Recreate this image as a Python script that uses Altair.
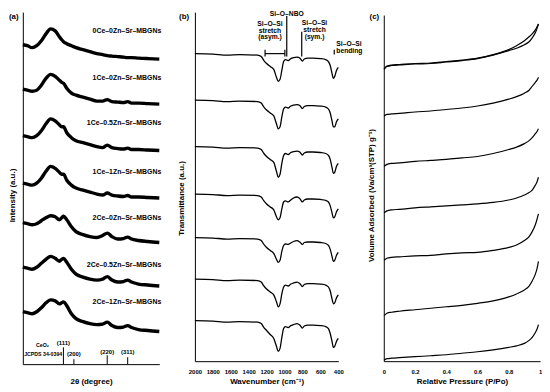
import altair as alt
import pandas as pd

FONT = "Liberation Sans"

# ---------------- (a) XRD patterns ----------------
xrd_angle = [11, 13, 15, 17, 19, 21, 23, 25, 26.8, 27.8, 28.6, 30, 32, 34, 37, 40, 43,
             45.5, 47.5, 49.5, 52, 54.5, 56.3, 58, 61, 65, 70]
xrd_samples = ["0Ce–0Zn–Sr–MBGNs", "1Ce–0Zn–Sr–MBGNs", "1Ce–0.5Zn–Sr–MBGNs", "1Ce–1Zn–Sr–MBGNs",
               "2Ce–0Zn–Sr–MBGNs", "2Ce–0.5Zn–Sr–MBGNs", "2Ce–1Zn–Sr–MBGNs"]
xrd_0ce_0zn = [323, 322, 320, 322, 327, 334, 339, 337, 331, 328, 326, 324, 322, 320, 318, 316, 314,
               313, 312, 311.5, 311, 310.5, 310, 310, 309.5, 309, 308.5]
xrd_1ce_0zn = [278, 277, 276, 277, 282, 289, 293, 291, 287, 285, 284, 279, 274, 272, 270, 268, 266,
               266, 267.5, 265.5, 265, 264.5, 265.5, 264, 264, 263.5, 263]
xrd_1ce_05zn = [231, 230, 229, 231, 236, 243, 248, 246, 242, 240, 240, 234, 229, 226, 224, 222, 220,
                219, 221.5, 219, 218, 217.5, 218.5, 217, 217, 216.5, 216]
xrd_1ce_1zn = [183, 182, 181, 183, 188, 195, 200, 198, 194, 192, 192, 186, 181, 178, 176, 174, 172,
               171, 173, 171, 170, 169.5, 170.5, 169, 169, 168.5, 168]
xrd_2ce_0zn = [143, 142, 141, 142, 145, 148, 150, 149, 146, 148, 149.5, 146, 139, 134, 131, 129, 128,
               130, 132.5, 129, 126.5, 127, 128.5, 126.5, 125, 124, 123]
xrd_2ce_05zn = [98, 97, 96, 98, 102, 106, 109, 107, 104, 106, 107, 103, 96, 91, 88, 86, 85,
                86, 88.5, 85, 83, 83.5, 85, 83, 81, 80, 79]
xrd_2ce_1zn = [53, 52, 51, 53, 57, 62, 65, 64, 61, 62, 63, 59, 51, 46, 43, 41, 40,
               40.5, 42.5, 39, 37, 37.5, 39, 37, 35, 34, 33]
xrd_values = [xrd_0ce_0zn, xrd_1ce_0zn, xrd_1ce_05zn, xrd_1ce_1zn, xrd_2ce_0zn, xrd_2ce_05zn, xrd_2ce_1zn]
xrd_label_y = [337, 289, 244, 194, 148, 100, 63]

ceo2_angle = [28.55, 33.08, 47.48, 56.33]
ceo2_height = [17, 5, 9, 7]
ceo2_hkl = ["(111)", "(200)", "(220)", "(311)"]
ceo2_label_y = [21, 10, 12, 12]

# ---------------- (b) FTIR spectra ----------------
ftir_wn = [2000, 1800, 1640, 1500, 1300, 1260, 1230, 1200, 1160, 1120, 1090, 1070, 1050, 1030,
           1010, 990, 960, 930, 900, 860, 830, 800, 780, 740, 680, 600, 540, 510, 490, 470,
           455, 440, 420, 400]
ftir_1 = [311, 310.5, 309.5, 310, 309.5, 308, 304, 301, 298, 295, 287, 283, 285, 294, 303, 305, 304,
          306, 307, 307.5, 306.5, 303.5, 305.5, 306.5, 306.5, 306, 305, 303, 299, 291, 286, 288, 294, 297]
ftir_2 = [264, 263.5, 262.5, 263, 262.5, 261, 257, 254, 251, 248, 240, 235, 237, 247, 255, 257, 256,
          258, 259, 259.5, 258.5, 255.5, 257.5, 258.5, 258.5, 258, 257, 255, 251, 243, 237, 237, 242, 245]
ftir_3 = [217, 216.5, 215.5, 216, 215.5, 214, 210, 207, 204, 201, 192, 186, 189, 200, 208, 210, 209,
          211, 212, 212.5, 211.5, 208.5, 210.5, 211.5, 211.5, 211, 210, 208, 204, 196, 190, 191, 197, 200]
ftir_4 = [169, 168.5, 167.5, 168, 167.5, 166, 162, 159, 156, 153, 146, 143, 145, 154, 161, 162, 161,
          163, 165, 166, 164.5, 161, 163, 164, 164, 163.5, 162.5, 161, 157, 150, 145, 146, 151, 154]
ftir_5 = [125, 124.5, 123.5, 124, 123.5, 122, 118, 115, 112, 109, 103, 100, 102, 111, 117, 118.5, 118,
          119.5, 121, 122, 120.5, 118, 120, 120.5, 120.5, 120, 119, 117, 113, 106, 101, 102, 107, 110]
ftir_6 = [83, 82.5, 81.5, 82, 81.5, 80, 76, 73, 70, 67, 60, 55, 58, 68, 75, 77, 76,
          78, 79, 80, 78.5, 75.5, 77.5, 78.5, 78.5, 78, 77, 75, 71, 63, 58, 59, 64, 67]
ftir_7 = [41, 40.5, 39.5, 40, 39.5, 38, 34, 31, 27, 23, 15, 10, 13, 24, 33, 35, 34,
          36, 37, 38, 36.5, 33.5, 35.5, 36.5, 36.5, 36, 35, 33, 28, 20, 14, 15, 20, 23]
ftir_values = [ftir_1, ftir_2, ftir_3, ftir_4, ftir_5, ftir_6, ftir_7]

# annotation segments (x, x2, y, y2) and texts
ann_x = [975, 808, 445, 1217, 1217, 996]
ann_x2 = [975, 808, 445, 996, 1217, 996]
ann_y = [308, 308, 310, 311, 308, 308]
ann_y2 = [349, 333, 315, 311, 315, 315]
ann_text_c = ["Si–O–NBO", "Si–O–Si", "stretch", "(asym.)", "Si–O–Si", "stretch", "(sym.)"]
ann_text_c_x = [975, 1162, 1162, 1162, 665, 665, 665]
ann_text_c_y = [351, 341, 334, 328, 342, 335, 328]
ann_text_l = ["Si–O–Si", "bending"]
ann_text_l_x = [422, 422]
ann_text_l_y = [321, 314]

# ---------------- (c) N2 isotherms ----------------
iso_p = [0.002, 0.02, 0.05, 0.1, 0.2, 0.3, 0.4, 0.5, 0.6, 0.7, 0.8, 0.85, 0.9, 0.93, 0.95, 0.97, 0.98, 0.99]
iso_1 = [295, 298, 299, 299.5, 300.5, 301, 302.5, 304, 306, 309.5, 314, 316.5, 320, 323, 327, 332, 336, 341]
iso_1_des = [295.5, 298.5, 299.5, 300, 301, 301.5, 303, 304.5, 306.5, 310, 315, 319, 324, 328, 331, 335, 338, 341]
iso_2 = [248, 249.5, 250, 250.5, 252, 253, 254.5, 256, 258, 261, 265, 267.5, 271, 274, 278, 282, 284, 287]
iso_3 = [197, 199, 200, 200.5, 202, 203, 204, 205.5, 207, 210, 214, 216.5, 220, 223, 226, 230, 232, 235]
iso_4 = [150, 152, 153, 153.5, 155, 156, 157, 158, 159, 160.5, 163, 165, 168, 170.5, 173, 178, 181, 186]
iso_5 = [102, 104, 105, 105.5, 106.5, 107, 108.5, 109.5, 110, 112, 115, 117.5, 122, 126, 131, 138, 143, 149]
iso_6 = [46, 48.5, 49.5, 50.5, 52, 53.5, 55, 56.5, 58.5, 61, 65, 68, 72, 76, 81, 88, 93, 101]
iso_7 = [1, 2.5, 3, 3.5, 4.5, 5.5, 6.5, 8, 9.5, 11.5, 14, 15.5, 18, 21, 24, 29, 32, 37]
iso_values = [iso_1, iso_1_des, iso_2, iso_3, iso_4, iso_5, iso_6, iso_7]
iso_names = ["s1 ads", "s1 des", "s2", "s3", "s4", "s5", "s6", "s7"]

# ---------------- tables ----------------
df_a = pd.DataFrame([{"angle": a, "intensity": v, "sample": n}
                     for n, vals in zip(xrd_samples, xrd_values) for a, v in zip(xrd_angle, vals)])
df_a_lab = pd.DataFrame({"angle": [70] * 7, "intensity": xrd_label_y, "text": xrd_samples})
df_ce = pd.DataFrame({"angle": ceo2_angle, "intensity": [0] * 4, "top": ceo2_height})
df_ce_lab = pd.DataFrame({"angle": ceo2_angle, "intensity": ceo2_label_y, "text": ceo2_hkl})
df_a_ref = pd.DataFrame({"angle": [19.5, 19.8], "intensity": [19, 10],
                         "text": ["CeO₂", "JCPDS 34-0394"]})
df_a_tag = pd.DataFrame({"angle": [5.0], "intensity": [351], "text": ["(a)"]})

df_b = pd.DataFrame([{"wn": w, "t": v, "sample": n}
                     for n, vals in zip(xrd_samples, ftir_values) for w, v in zip(ftir_wn, vals)])
df_b_seg = pd.DataFrame({"wn": ann_x, "wn2": ann_x2, "t": ann_y, "t2": ann_y2})
df_b_tc = pd.DataFrame({"wn": ann_text_c_x, "t": ann_text_c_y, "text": ann_text_c})
df_b_tl = pd.DataFrame({"wn": ann_text_l_x, "t": ann_text_l_y, "text": ann_text_l})
df_b_p = pd.DataFrame({"wn": [2121], "t": [348], "text": ["(b)"]})

df_c = pd.DataFrame([{"p": p, "v": v, "sample": n}
                     for n, vals in zip(iso_names, iso_values) for p, v in zip(iso_p, vals)])
df_c_p = pd.DataFrame({"p": [-0.06], "v": [348], "text": ["(c)"]})

# ---------------- panel (a) ----------------
ax_a = alt.X("angle:Q", scale=alt.Scale(domain=[11, 70], range=[0, 138], nice=False, zero=False),
             axis=alt.Axis(title="2θ (degree)", labels=False, titlePadding=14))
ay_a = alt.Y("intensity:Q", scale=alt.Scale(domain=[0, 356], nice=False, zero=False),
             axis=alt.Axis(title="Intensity (a.u.)", labels=False, titlePadding=6, titleY=185))

a_lines = alt.Chart(df_a).mark_line(color="black", strokeWidth=3.4, interpolate="monotone").encode(
    x=ax_a, y=ay_a, detail="sample:N")
a_labels = alt.Chart(df_a_lab).mark_text(align="right", baseline="middle", fontSize=7, dx=2).encode(
    x=ax_a, y=ay_a, text="text:N")
a_sticks = alt.Chart(df_ce).mark_rule(color="black", strokeWidth=1).encode(
    x=ax_a, y=ay_a, y2="top:Q")
a_hkl = alt.Chart(df_ce_lab).mark_text(baseline="middle", fontSize=6).encode(
    x=ax_a, y=ay_a, text="text:N")
a_ref = alt.Chart(df_a_ref).mark_text(baseline="middle", fontSize=5.3).encode(
    x=ax_a, y=ay_a, text="text:N")
a_tag = alt.Chart(df_a_tag).mark_text(align="left", baseline="middle", fontSize=8).encode(
    x=ax_a, y=ay_a, text="text:N")
panel_a = alt.layer(a_lines, a_labels, a_sticks, a_hkl, a_ref, a_tag).properties(width=154, height=356)

# ---------------- panel (b) ----------------
ax_b = alt.X("wn:Q", scale=alt.Scale(domain=[2000, 400], range=[0, 145], nice=False, zero=False),
             axis=alt.Axis(title="Wavenumber (cm⁻¹)", values=[2000, 1800, 1600, 1400, 1200, 1000, 800, 600, 400],
                           format="d", labelPadding=7, titlePadding=4, labelFlush=False, labelOverlap=False))
ay_b = alt.Y("t:Q", scale=alt.Scale(domain=[0, 353], nice=False, zero=False),
             axis=alt.Axis(title="Transmittance (a.u.)", labels=False, titlePadding=10, titleY=188))

b_lines = alt.Chart(df_b).mark_line(color="black", strokeWidth=1.3, interpolate="monotone").encode(
    x=ax_b, y=ay_b, detail="sample:N")
b_seg = alt.Chart(df_b_seg).mark_rule(color="black", strokeWidth=1.2).encode(
    x=ax_b, x2="wn2:Q", y=ay_b, y2="t2:Q")
b_tc = alt.Chart(df_b_tc).mark_text(baseline="middle", fontSize=6.8).encode(x=ax_b, y=ay_b, text="text:N")
b_tl = alt.Chart(df_b_tl).mark_text(align="left", baseline="middle", fontSize=6.8).encode(x=ax_b, y=ay_b, text="text:N")
b_tag = alt.Chart(df_b_p).mark_text(baseline="middle", fontSize=8).encode(x=ax_b, y=ay_b, text="text:N")
panel_b = alt.layer(b_lines, b_seg, b_tc, b_tl, b_tag).properties(width=171, height=353)

# ---------------- panel (c) ----------------
ax_c = alt.X("p:Q", scale=alt.Scale(domain=[0, 1], nice=False, zero=False),
             axis=alt.Axis(title="Relative Pressure (P/Po)", values=[0, 0.2, 0.4, 0.6, 0.8, 1],
                           labelExpr="datum.value == 0 ? '0' : datum.value == 1 ? '1' : format(datum.value, '.1f')",
                           labelPadding=7, titlePadding=4, labelFlush=False, labelOverlap=False))
ay_c = alt.Y("v:Q", scale=alt.Scale(domain=[0, 350], range=[353, 3], nice=False, zero=False),
             axis=alt.Axis(title="Volume Adsorbed (Va/cm³(STP) g⁻¹)", labels=False, titlePadding=8, titleY=185))
c_lines = alt.Chart(df_c).mark_line(color="black", strokeWidth=1.2, interpolate="monotone").encode(
    x=ax_c, y=ay_c, detail="sample:N")
c_tag = alt.Chart(df_c_p).mark_text(baseline="middle", fontSize=8).encode(x=ax_c, y=ay_c, text="text:N")
panel_c = alt.layer(c_lines, c_tag).properties(width=158, height=353)

chart = alt.hconcat(panel_a, panel_b, panel_c, spacing=20, bounds="flush").properties(
    padding={"left": 0, "top": 0, "right": 0, "bottom": 0}
).configure_view(stroke=None).configure_axis(
    grid=False, domainColor="black", domainWidth=1, ticks=False, tickSize=0,
    labelFont=FONT, titleFont=FONT, labelFontWeight="bold", titleFontWeight="bold",
    labelColor="black", titleColor="black", labelFontSize=6, titleFontSize=8
).configure_text(font=FONT, fontWeight="bold", color="black")

chart.save("out.html", embed_options={"renderer": "svg", "actions": False})
